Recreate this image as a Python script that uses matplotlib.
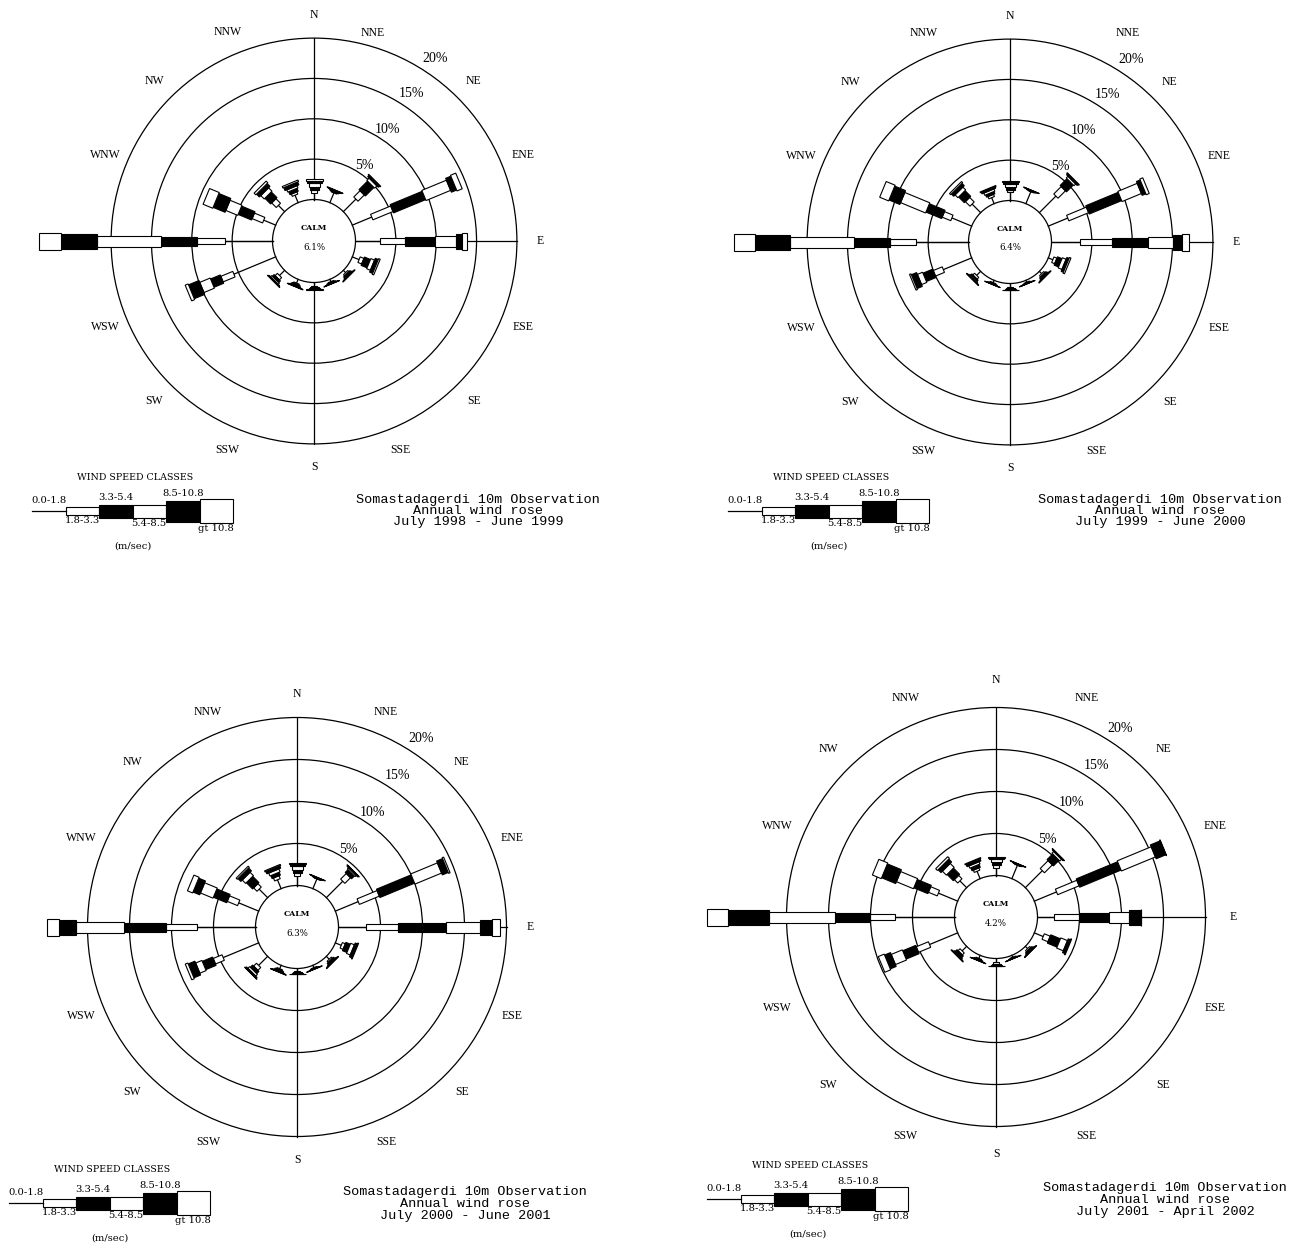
"""
Somastadagerdi 10m observation: four annual wind roses (1998-2002).
Bars start at the calm circle; each speed class is a box of its own width.
"""
import numpy as np
import matplotlib
matplotlib.use("Agg")
import matplotlib.pyplot as plt
from matplotlib.patches import Circle, Rectangle
from matplotlib.transforms import Affine2D

DIRS = ["N", "NNE", "NE", "ENE", "E", "ESE", "SE", "SSE",
        "S", "SSW", "SW", "WSW", "W", "WNW", "NW", "NNW"]
SPEED_CLASSES = ["0.0-1.8", "1.8-3.3", "3.3-5.4", "5.4-8.5", "8.5-10.8", "gt 10.8"]
RINGS = [5, 10, 15, 20]
PERIODS = ["July 1998 - June 1999", "July 1999 - June 2000",
           "July 2000 - June 2001", "July 2001 - April 2002"]
CALM = [6.1, 6.4, 6.3, 4.2]

# % frequency per direction (rows follow DIRS), one column per speed class
FREQ_9899 = [
    [0.8, 0.4, 0.4, 0.4, 0.3, 0.3],
    [1.3, 0.1, 0.1, 0.1, 0.05, 0.05],
    [2.2, 1.1, 1.5, 0.4, 0.2, 0.1],
    [2.6, 2.7, 4.3, 3.3, 0.7, 0.7],
    [3.0, 3.1, 3.8, 2.6, 0.7, 0.6],
    [0.9, 0.5, 0.8, 0.5, 0.4, 0.2],
    [0.4, 0.2, 0.2, 0.1, 0.05, 0.05],
    [0.3, 0.1, 0.1, 0.05, 0.03, 0.02],
    [0.4, 0.15, 0.15, 0.1, 0.05, 0.03],
    [0.5, 0.15, 0.15, 0.1, 0.05, 0.03],
    [0.9, 0.4, 0.3, 0.2, 0.1, 0.05],
    [5.6, 1.6, 1.3, 1.4, 1.4, 0.4],
    [5.9, 3.4, 4.5, 7.9, 4.5, 2.7],
    [1.6, 1.4, 1.8, 1.6, 1.6, 1.3],
    [1.1, 0.8, 1.0, 0.6, 0.5, 0.3],
    [1.0, 0.3, 0.4, 0.3, 0.4, 0.2],
]
FREQ_9900 = [
    [1.0, 0.3, 0.4, 0.3, 0.3, 0.1],
    [1.6, 0.05, 0.05, 0.05, 0.03, 0.02],
    [2.9, 1.3, 1.2, 0.3, 0.15, 0.1],
    [2.6, 2.65, 4.35, 2.6, 0.5, 0.4],
    [3.5, 4.0, 4.5, 3.0, 1.2, 0.8],
    [0.6, 0.4, 0.6, 0.5, 0.3, 0.2],
    [0.4, 0.2, 0.2, 0.1, 0.05, 0.05],
    [0.25, 0.1, 0.05, 0.03, 0.01, 0.01],
    [0.4, 0.15, 0.15, 0.1, 0.03, 0.02],
    [0.3, 0.1, 0.1, 0.03, 0.01, 0.01],
    [0.7, 0.3, 0.2, 0.15, 0.05, 0.05],
    [3.8, 1.2, 1.3, 0.7, 0.7, 0.2],
    [6.5, 3.2, 4.5, 7.9, 4.4, 2.5],
    [2.65, 1.15, 2.1, 3.35, 1.45, 1.2],
    [1.5, 0.8, 1.0, 0.5, 0.4, 0.2],
    [0.8, 0.3, 0.3, 0.3, 0.2, 0.1],
]
FREQ_0001 = [
    [1.14, 0.38, 0.38, 0.38, 0.29, 0.1],
    [1.24, 0.05, 0.05, 0.05, 0.03, 0.02],
    [2.76, 0.95, 0.48, 0.19, 0.1, 0.05],
    [2.95, 2.57, 4.47, 3.43, 0.76, 0.19],
    [3.28, 3.86, 5.71, 4.0, 1.43, 0.95],
    [0.76, 0.38, 0.57, 0.48, 0.29, 0.1],
    [0.48, 0.19, 0.19, 0.1, 0.05, 0.05],
    [0.29, 0.1, 0.05, 0.03, 0.01, 0.01],
    [0.33, 0.14, 0.1, 0.05, 0.03, 0.02],
    [0.43, 0.14, 0.14, 0.08, 0.04, 0.03],
    [1.52, 0.48, 0.38, 0.29, 0.14, 0.05],
    [4.57, 1.14, 1.33, 0.81, 0.86, 0.33],
    [6.95, 3.76, 5.0, 5.62, 2.09, 1.43],
    [2.57, 1.33, 1.71, 1.62, 0.86, 0.67],
    [1.43, 0.57, 1.05, 0.57, 0.48, 0.19],
    [1.14, 0.38, 0.38, 0.38, 0.29, 0.14],
]
FREQ_0102 = [
    [0.95, 0.29, 0.38, 0.29, 0.19, 0.1],
    [1.71, 0.05, 0.05, 0.05, 0.03, 0.02],
    [2.86, 1.33, 0.95, 0.29, 0.1, 0.05],
    [2.86, 2.76, 5.33, 4.38, 1.24, 0.05],
    [2.0, 2.95, 3.62, 2.38, 1.43, 0.0],
    [1.14, 0.76, 1.24, 0.86, 0.29, 0.1],
    [0.38, 0.19, 0.14, 0.1, 0.05, 0.03],
    [0.24, 0.08, 0.05, 0.03, 0.01, 0.01],
    [0.43, 0.19, 0.14, 0.1, 0.05, 0.03],
    [0.38, 0.11, 0.1, 0.05, 0.02, 0.01],
    [0.76, 0.33, 0.29, 0.14, 0.07, 0.03],
    [3.62, 1.57, 1.67, 1.43, 0.76, 0.76],
    [7.04, 3.05, 4.19, 7.81, 4.86, 2.57],
    [2.48, 1.14, 1.81, 2.19, 1.81, 1.14],
    [1.14, 0.57, 1.05, 0.67, 0.48, 0.29],
    [0.95, 0.29, 0.38, 0.29, 0.29, 0.1],
]

# layout (figure pixels): rose centre, px per %, label radius, legend origin, title centre
PANELS = [
    dict(freq=FREQ_9899, c=(314, 241), k=8.07, lab_r=226, leg=(32, 511), title=(478, 511),
         lab_fix={"NNE": (59, -208)}),
    dict(freq=FREQ_9900, c=(1010, 242), k=8.07, lab_r=226, leg=(728, 511), title=(1160, 511),
         lab_fix={"NNE": (118, -209)}),
    dict(freq=FREQ_0001, c=(297, 927), k=8.4, lab_r=233, leg=(9, 1203), title=(465, 1204),
         lab_fix={}),
    dict(freq=FREQ_0102, c=(996, 917), k=8.4, lab_r=237, leg=(707, 1199), title=(1165, 1200),
         lab_fix={}),
]

R_CALM = 41.5      # px
BAR_W = [0, 6, 9, 11, 15, 17]
LEG_W = [0, 8, 13, 13, 21, 24]
LEG_LEN = 33.5
FILL = ["k", "white", "black", "white", "black", "white"]
LW = 0.9
SERIF = "Liberation Serif"
SMALL = "DejaVu Serif"


def draw_rose(ax, p, calm):
    cx, cy = p["c"]
    K = p["k"]
    outer = R_CALM + K * RINGS[-1]
    for r in [R_CALM] + [R_CALM + K * v for v in RINGS]:
        ax.add_patch(Circle((cx, cy), r, fill=False, ec="k", lw=LW, zorder=2))
    for th in (0, 90, 180, 270):
        s, c = np.sin(np.radians(th)), np.cos(np.radians(th))
        ax.plot([cx + R_CALM * s, cx + outer * s], [cy - R_CALM * c, cy - outer * c],
                color="k", lw=LW, zorder=2)
    # ring labels, just outside each ring
    a = np.radians(33.5)
    for v in RINGS:
        r = R_CALM + K * v + 7 + 0.45 * v
        ax.text(cx + r * np.sin(a), cy - r * np.cos(a), f"{v}%", family=SERIF,
                fontsize=10, ha="center", va="center", zorder=1)
    # direction labels (sit under the bars, W gets covered)
    for i, d in enumerate(DIRS):
        if d in p["lab_fix"]:
            dx, dy = p["lab_fix"][d]
        else:
            t = np.radians(i * 22.5)
            dx, dy = p["lab_r"] * np.sin(t), -p["lab_r"] * np.cos(t)
        ax.text(cx + dx, cy + dy, d, family=SERIF, fontsize=8.5,
                ha="center", va="center", zorder=1)
    # bars
    for i, row in enumerate(p["freq"]):
        tr = Affine2D().rotate_deg(i * 22.5 - 90).translate(cx, cy) + ax.transData
        edges = R_CALM + K * np.concatenate([[0], np.cumsum(row)])
        ax.plot(edges[:2], [0, 0], color="k", lw=LW, transform=tr, zorder=3)
        for j in range(1, 6):
            w = BAR_W[j]
            ax.add_patch(Rectangle((edges[j], -w / 2), edges[j + 1] - edges[j], w,
                                   fc=FILL[j], ec="k", lw=0.8, transform=tr, zorder=3 + j))
    ax.text(cx, cy - 13, "CALM", family=SMALL, fontweight="bold", fontsize=5.6,
            ha="center", va="center")
    ax.text(cx, cy + 6, f"{calm}%", family=SMALL, fontsize=6.2, ha="center", va="center")


def draw_legend(ax, x0, y0):
    ax.text(x0 + 103, y0 - 33, "WIND SPEED CLASSES", family=SMALL, fontsize=6.8,
            ha="center", va="center")
    ax.plot([x0, x0 + LEG_LEN], [y0, y0], color="k", lw=LW)
    for j, lab in enumerate(SPEED_CLASSES):
        xa = x0 + j * LEG_LEN
        w = LEG_W[j]
        if j:
            ax.add_patch(Rectangle((xa, y0 - w / 2), LEG_LEN, w, fc=FILL[j], ec="k", lw=0.8))
        xm = xa + LEG_LEN / 2
        if j % 2 == 0:
            ax.text(xm, y0 - max(w / 2, 4) - 2, lab, family=SMALL, fontsize=7.2,
                    ha="center", va="bottom")
        else:
            ax.text(xm, y0 + w / 2 + 1, lab, family=SMALL, fontsize=7.2, ha="center", va="top")
    ax.text(x0 + 101, y0 + 35, "(m/sec)", family=SMALL, fontsize=7.2, ha="center", va="center")


def main():
    fig = plt.figure(figsize=(12.98, 12.47), dpi=100)
    ax = fig.add_axes([0, 0, 1, 1])
    ax.set_xlim(0, 1298)
    ax.set_ylim(1247, 0)
    ax.axis("off")

    for p, calm, period in zip(PANELS, CALM, PERIODS):
        draw_rose(ax, p, calm)
        draw_legend(ax, *p["leg"])
        tx, ty = p["title"]
        for k, line in enumerate(["Somastadagerdi 10m Observation", "Annual wind rose", period]):
            ax.text(tx, ty + (k - 1) * 11.5, line, family="Liberation Mono", fontsize=9.7,
                    ha="center", va="center")

    fig.savefig("out.png", dpi=100)
    plt.close(fig)


if __name__ == "__main__":
    main()
